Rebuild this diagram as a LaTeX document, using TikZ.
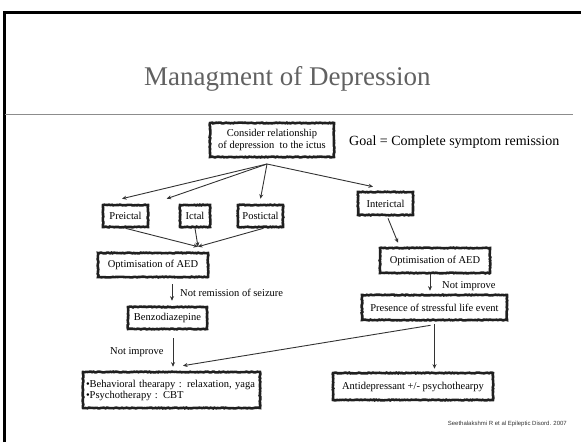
\documentclass[tikz,border=0pt]{standalone}
\usepackage{fontspec}
\setmainfont{Liberation Serif}
\newfontfamily\citefont{Liberation Sans}
\usetikzlibrary{arrows.meta,decorations.pathmorphing,calc}
\begin{document}
\begin{tikzpicture}[x=1pt,y=-1pt,
  boxx/.style={draw=black!88, line width=2.6pt, inner xsep=0pt, inner ysep=0pt,
    align=center, font=\fontsize{10.5}{12}\selectfont, minimum height=22pt, fill=white,
    decorate, decoration={random steps,segment length=1.4pt,amplitude=0.4pt}},
  lbl/.style={font=\fontsize{10.5}{12}\selectfont, inner sep=0pt},
  arr/.style={draw=black!80, line width=0.9pt, -{Stealth[length=4.5pt,width=4pt]}}]
\useasboundingbox (0,0) rectangle (581,442);
% frame and rule
\draw[line width=3pt] (4.5,442) -- (4.5,12) -- (581,12);
\draw[black!45, line width=1pt] (5,114) -- (573,114);
% title
\node[anchor=base west, inner sep=0pt, text=black!62, font=\fontsize{27}{30}\selectfont] (title) at (144,85) {Managment of Depression};
% nodes
\node[boxx, minimum width=124pt, minimum height=34pt] (cons) at (272,140) {Consider relationship\\of depression\ \ to the ictus};
\node[anchor=base west, inner sep=0pt, font=\fontsize{14}{16}\selectfont] (goal) at (349,145) {Goal = Complete symptom remission};
\node[boxx, minimum width=45pt] (pre) at (125.5,216) {Preictal};
\node[boxx, minimum width=30pt] (ict) at (195,216) {Ictal};
\node[boxx, minimum width=45pt] (post) at (260.5,216) {Postictal};
\node[boxx, minimum width=55pt, minimum height=23pt] (inter) at (385.5,203.5) {Interictal};
\node[boxx, minimum width=110pt, minimum height=24pt] (optL) at (153,265) {Optimisation of AED};
\node[boxx, minimum width=110pt, minimum height=25pt] (optR) at (435,260.5) {Optimisation of AED};
\node[boxx, minimum width=79pt] (benzo) at (167.5,318) {Benzodiazepine};
\node[boxx, minimum width=145pt, minimum height=25pt] (pres) at (434.5,307.5) {Presence of stressful life event};
\node[boxx, minimum width=160pt, minimum height=27pt] (anti) at (413,386.5) {Antidepressant +/- psychothearpy};
\node[boxx, text width=171pt, inner xsep=3pt, minimum height=36pt, align=left, font=\fontsize{10.5}{11}\selectfont] (beh) at (171.5,390)
  {\textbullet Behavioral thearapy : relaxation, yaga\\\textbullet Psychotherapy : CBT};
% labels
\node[lbl, anchor=base west] (l1) at (180,296) {Not remission of seizure};
\node[lbl, anchor=base west] (l2) at (110,354) {Not improve};
\node[lbl, anchor=base west] (l3) at (442,288) {Not improve};
\node[anchor=base east, inner sep=0pt, text=black!80, font=\citefont\fontsize{6}{7}\selectfont] (cit) at (567,425) {Seethalakshmi R et al Epileptic Disord. 2007};
% connectors
\coordinate (co) at (267,164);
\draw[arr] (co) -- ($(pre.north)+(-3.5,-5)$);
\draw[arr] (co) -- ($(ict.north west)+(-12,-5)$);
\draw[arr] (co) -- ($(post.north)+(0,-5)$);
\draw[arr] (co) -- ($(inter.north)+(-12.5,-4)$);
\coordinate (mL) at ($(optL.north)+(45,-5)$);
\draw[arr] (pre.south) -- (mL);
\draw[arr] (ict.south) -- (mL);
\draw[arr] ($(post.south)+(3,0)$) -- (mL);
\draw[arr] ($(inter.south)+(2.5,2)$) -- ($(optR.north)+(-37,-4)$);
\draw[arr] ($(optR.south)+(-5,0)$) -- ($(pres.north)+(-4.5,-3)$);
\draw[arr] ($(pres.south)+(0,3)$) -- ($(pres.south |- anti.north)+(0,-3)$);
\draw[arr] ($(pres.south)+(-4,4)$) -- ($(beh.north)+(11.5,-5)$);
\draw[arr] ($(benzo.north |- optL.south)+(4.5,6)$) -- ($(benzo.north)+(4.5,-5)$);
\draw[arr] ($(benzo.south)+(5.5,8)$) -- ($(beh.north)+(1.5,-4)$);
\end{tikzpicture}
\end{document}
